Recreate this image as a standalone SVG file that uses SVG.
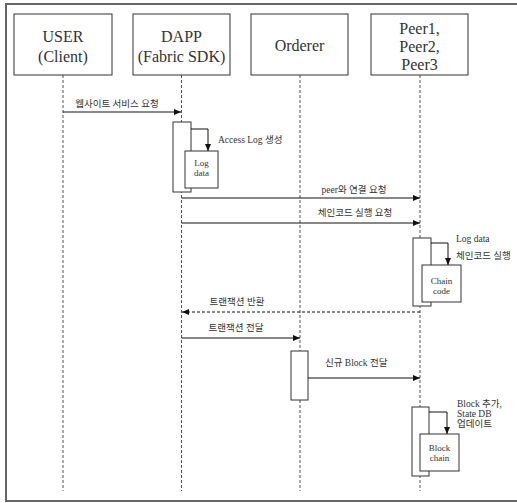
<svg xmlns="http://www.w3.org/2000/svg" width="517" height="503" viewBox="0 0 517 503">
<style>
.box{fill:#fff;stroke:#333;stroke-width:1}
.hd{font-family:"Liberation Serif","Noto Sans CJK KR",serif;font-size:16px;fill:#333;text-anchor:middle}
.life{stroke:#555;stroke-width:1;stroke-dasharray:3 2;fill:none}
.msg{stroke:#111;stroke-width:1;fill:none}
.ret{stroke:#111;stroke-width:1;fill:none;stroke-dasharray:3 2}
.lb{font-family:"Liberation Serif","Noto Sans CJK KR",serif;font-size:9.5px;fill:#333}
.c{text-anchor:middle}
.sm{font-family:"Liberation Serif","Noto Sans CJK KR",serif;font-size:9px;fill:#333;text-anchor:middle}
</style>
<defs>
<marker id="ah" markerWidth="8" markerHeight="8" refX="7" refY="4" orient="auto" markerUnits="userSpaceOnUse">
<path d="M0,1 L7,4 L0,7 Z" fill="#111"/>
</marker>
</defs>
<rect x="0" y="0" width="517" height="503" fill="#fff"/>
<path d="M520 4 H6 V501 H520" fill="none" stroke="#666" stroke-width="2"/>

<g id="lifelines">
<line class="life" x1="63" y1="75" x2="63" y2="491"/>
<line class="life" x1="181.5" y1="75" x2="181.5" y2="491"/>
<line class="life" x1="300" y1="75" x2="300" y2="491"/>
<line class="life" x1="420" y1="75" x2="420" y2="491"/>
</g>

<g id="user">
<rect class="box" x="14" y="14" width="98" height="61"/>
<text class="hd" x="63" y="42">USER</text>
<text class="hd" x="63" y="62">(Client)</text>
</g>
<g id="dapp">
<rect class="box" x="133" y="14" width="97" height="61"/>
<text class="hd" x="181.5" y="42">DAPP</text>
<text class="hd" x="181.5" y="62">(Fabric SDK)</text>
</g>
<g id="orderer">
<rect class="box" x="251" y="14" width="97" height="61"/>
<text class="hd" x="299.5" y="51">Orderer</text>
</g>
<g id="peers">
<rect class="box" x="371" y="14" width="97" height="61"/>
<text class="hd" x="419.5" y="34">Peer1,</text>
<text class="hd" x="419.5" y="52">Peer2,</text>
<text class="hd" x="419.5" y="70">Peer3</text>
</g>

<g id="dapp-activation">
<rect class="box" x="173" y="122" width="18" height="70"/>
<rect class="box" x="185" y="151" width="33" height="37"/>
<text class="sm" x="201.5" y="166">Log</text>
<text class="sm" x="201.5" y="176">data</text>
</g>
<g id="peer-activation-1">
<rect class="box" x="413" y="238" width="18" height="68"/>
<rect class="box" x="422" y="265" width="39" height="37"/>
<text class="sm" x="441.5" y="284">Chain</text>
<text class="sm" x="441.5" y="294">code</text>
</g>
<g id="orderer-activation">
<rect class="box" x="291" y="351" width="17" height="49"/>
</g>
<g id="peer-activation-2">
<rect class="box" x="412" y="407" width="17" height="69"/>
<rect class="box" x="420" y="434" width="39" height="37"/>
<text class="sm" x="439.5" y="451">Block</text>
<text class="sm" x="439.5" y="461">chain</text>
</g>

<g id="connectors">
<line class="msg" x1="63" y1="112" x2="181" y2="112" marker-end="url(#ah)"/>
<path class="msg" d="M191 129 H208 V151" marker-end="url(#ah)"/>
<line class="msg" x1="181.5" y1="198" x2="420" y2="198" marker-end="url(#ah)"/>
<line class="msg" x1="181.5" y1="223" x2="420" y2="223" marker-end="url(#ah)"/>
<path class="msg" d="M431 243 H448 V265" marker-end="url(#ah)"/>
<line class="ret" x1="420" y1="312" x2="182" y2="312" marker-end="url(#ah)"/>
<line class="msg" x1="181.5" y1="338" x2="300" y2="338" marker-end="url(#ah)"/>
<line class="msg" x1="308" y1="378" x2="420" y2="378" marker-end="url(#ah)"/>
<path class="msg" d="M429 412 H447 V434" marker-end="url(#ah)"/>
</g>

<g id="labels">
<text class="lb c" x="117" y="107">웹사이트 서비스 요청</text>
<text class="lb" x="218" y="143">Access Log 생성</text>
<text class="lb c" x="354" y="193">peer와 연결 요청</text>
<text class="lb c" x="355" y="216">체인코드 실행 요청</text>
<text class="lb" x="456" y="242">Log data</text>
<text class="lb" x="456" y="259">체인코드 실행</text>
<text class="lb c" x="237" y="305">트랜잭션 반환</text>
<text class="lb c" x="236" y="331">트랜잭션 전달</text>
<text class="lb" x="325" y="366">신규 Block 전달</text>
<text class="lb" x="457" y="407">Block 추가,</text>
<text class="lb" x="457" y="417">State DB</text>
<text class="lb" x="457" y="427">업데이트</text>
</g>
</svg>
